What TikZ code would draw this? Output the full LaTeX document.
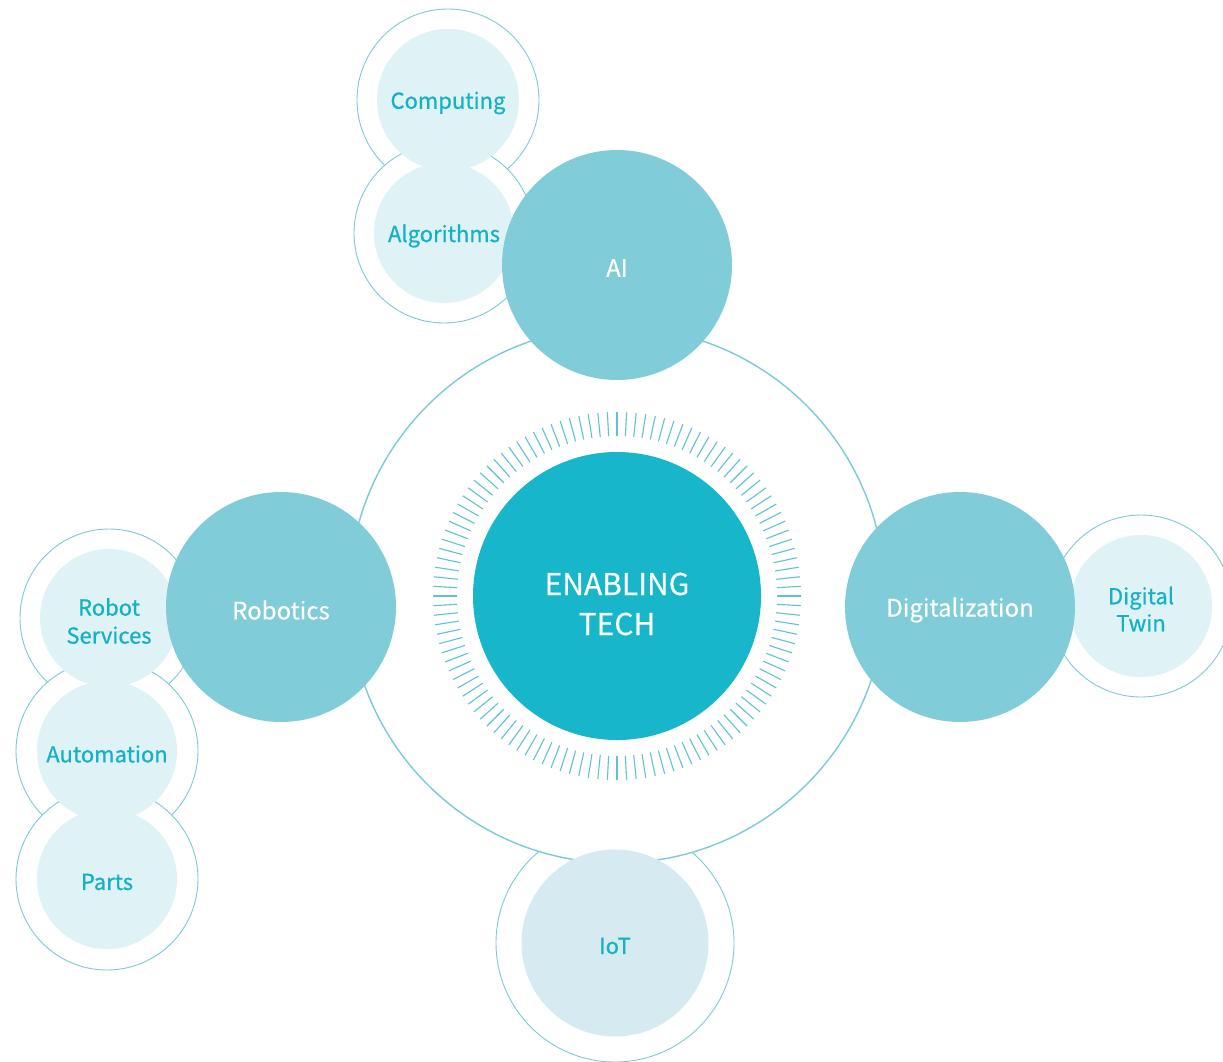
\documentclass[tikz,border=0pt]{standalone}
\usepackage{fontspec}
\setmainfont{Noto Sans CJK KR}
\newfontfamily\subf{Noto Sans CJK KR}[FakeBold=0.8]
\newfontfamily\mainf{Noto Sans CJK KR}[FakeBold=0.3]
\definecolor{mainfill}{HTML}{80CCD8}
\definecolor{ctrfill}{HTML}{17B6CA}
\definecolor{subfill}{HTML}{DFF2F6}
\definecolor{iotfill}{HTML}{D5EBF1}
\definecolor{subtext}{HTML}{15B2C7}
\definecolor{ringc}{HTML}{7CCAD6}
\definecolor{tickc}{HTML}{5FC3D3}
\begin{document}
\begin{tikzpicture}[x=1pt,y=-1pt,
  outerring/.style={circle,draw=ringc,line width=0.9pt,fill=white,inner sep=0pt,minimum size=#1},
  subin/.style={circle,fill=subfill,text=subtext,inner sep=0pt,minimum size=#1,
    align=center,font=\subf\fontsize{22}{28}\selectfont,text depth=0pt},
  mainc/.style={circle,fill=mainfill,text=white,inner sep=0pt,minimum size=230pt,
    font=\mainf\fontsize{24}{30}\selectfont},
  bigring/.style={circle,draw=ringc,line width=1.4pt,fill=white,inner sep=0pt,minimum size=536pt},
  ctrc/.style={circle,fill=ctrfill,text=white,inner sep=0pt,minimum size=288pt,
    align=center,font=\mainf\fontsize{30}{40}\selectfont},
  lbl/.style={inner sep=0pt,align=center},
  tick/.style={draw=tickc,line width=1.1pt}]
\useasboundingbox (0,0) rectangle (1223,1062);
% outer rings of sub topics
\node[outerring=182pt] (compo) at (448,100) {};
\node[outerring=180pt] (algoo) at (444,233) {};
\node[outerring=178pt] (rso) at (109,618) {};
\node[outerring=182pt] (autoo) at (107,751) {};
\node[outerring=182pt] (partso) at (107,879) {};
\node[outerring=182pt] (dto) at (1141,606) {};
\node[outerring=238pt] (ioto) at (615,943) {};
% big ring
\node[bigring] (ring) at (617,595) {};
% inner fills of sub topics
\node[subin=142pt] (comp) at (448,100) {};
\node[subin=140pt] (algo) at (444,233) {};
\node[subin=138pt] (rs) at (109,618) {};
\node[subin=140pt] (auto) at (107,751) {};
\node[subin=140pt] (parts) at (107,879) {};
\node[subin=142pt] (dt) at (1141,606) {};
\node[subin=187pt,fill=iotfill] (iot) at (615,943) {};
\begin{scope}[every node/.style={lbl,text=subtext,font=\subf\fontsize{22}{28}\selectfont}]
\node (compt) at ([yshift=-3pt]comp.center) {Computing};
\node (algot) at ([yshift=-3pt]algo.center) {Algorithms};
\node (rst) at ([yshift=-3pt]rs.center) {Robot\\Services};
\node (autot) at ([yshift=-3pt]auto.center) {Automation};
\node (partst) at ([yshift=-3pt]parts.center) {Parts};
\node (dtt) at ([yshift=-3pt]dt.center) {Digital\\[-1pt]Twin};
\node (iott) at ([yshift=-3pt]iot.center) {IoT};
\end{scope}
% main topics
\node[mainc] (ai) at (617,265) {};
\node[mainc] (rob) at (281,607) {};
\node[mainc] (dig) at (960,607) {};
\begin{scope}[every node/.style={lbl,text=white,font=\mainf\fontsize{24}{30}\selectfont}]
\node (ait) at ([yshift=-3pt]ai.center) {AI};
\node (robt) at ([yshift=-3pt]rob.center) {Robotics};
\node (digt) at ([yshift=-3pt]dig.center) {Digitalization};
\end{scope}
% centre
\node[ctrc] (ctr) at (617,596) {};
\node[lbl,text=white,font=\mainf\fontsize{30}{40}\selectfont] (ctrt) at ([yshift=-8pt]ctr.center) {ENABLING\\TECH};
\foreach \a in {0,3,...,357}
  \draw[tick] (ctr.center) ++(\a:160pt) -- ++(\a:24pt);
\end{tikzpicture}
\end{document}
